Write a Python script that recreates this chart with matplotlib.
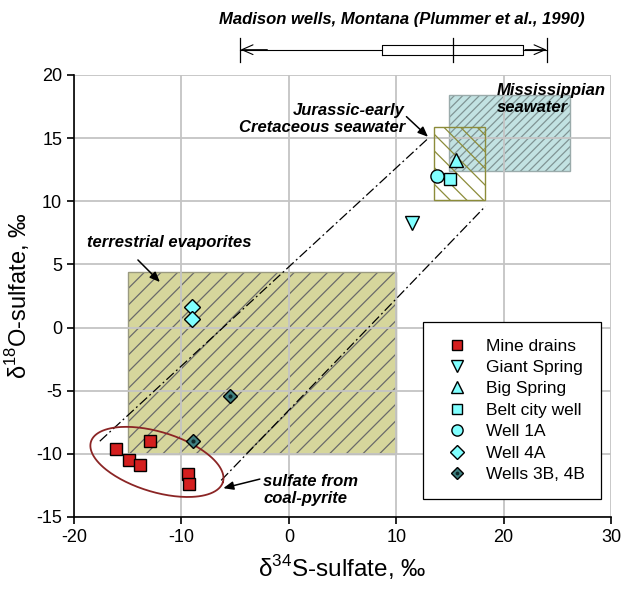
import matplotlib
matplotlib.use('Agg')
import matplotlib.pyplot as plt
import numpy as np
from matplotlib.patches import Rectangle
from matplotlib.lines import Line2D

plt.rcParams['font.family'] = ['Liberation Sans', 'DejaVu Sans']
plt.rcParams['axes.unicode_minus'] = False
plt.rcParams['hatch.linewidth'] = 0.9

# ---------------- data ----------------
mine_x = [-16.1, -14.9, -13.9, -12.9, -9.4, -9.3]
mine_y = [-9.6, -10.5, -10.9, -9.0, -11.6, -12.4]
giant_x = [11.5]
giant_y = [8.3]
big_x = [15.6]
big_y = [13.3]
belt_x = [15.0]
belt_y = [11.8]
well1a_x = [13.8]
well1a_y = [12.0]
well4a_x = [-9.0, -9.0]
well4a_y = [1.6, 0.7]
wells3b_x = [-8.9, -5.5]
wells3b_y = [-9.0, -5.4]

# fields: x0, y0, x1, y1
terr_field = [-15.0, -10.0, 10.0, 4.4]
jur_field = [13.5, 10.1, 18.3, 15.9]
miss_field = [14.9, 12.4, 26.2, 18.4]

# Madison wells range: min, q1, median, q3, max
madison = [-4.5, 8.7, 15.3, 21.8, 24.0]

xticks = [-20, -10, 0, 10, 20, 30]
yticks = [-15, -10, -5, 0, 5, 10, 15, 20]

# ---------------- figure ----------------
fig = plt.figure(figsize=(6.23, 5.93), dpi=100)
ax = fig.add_axes([0.1188, 0.1282, 0.862, 0.7454])
ax.set_xlim(-20, 30)
ax.set_ylim(-15, 20)
ax.set_xticks(xticks)
ax.set_yticks(yticks)
ax.set_axisbelow(True)
ax.grid(True, color='#c4c4c4', lw=1.3, zorder=0.5)
for s in ['top', 'right']:
    ax.spines[s].set_visible(False)
for s in ['left', 'bottom']:
    ax.spines[s].set_linewidth(1.2)
ax.tick_params(direction='out', length=5, width=1.2, labelsize=13)

def field(f, fc, hatch, hc, ec, z):
    x0, y0, x1, y1 = f
    if fc is not None:
        ax.add_patch(Rectangle((x0, y0), x1 - x0, y1 - y0, facecolor=fc,
                               edgecolor='none', lw=0, zorder=z))
    ax.add_patch(Rectangle((x0, y0), x1 - x0, y1 - y0, facecolor='none',
                           hatch=hatch, edgecolor=hc, lw=0, zorder=z + 0.01))
    ax.add_patch(Rectangle((x0, y0), x1 - x0, y1 - y0, facecolor='none',
                           edgecolor=ec, lw=1.0, zorder=z + 0.02))

field(terr_field, '#d6d69c', '//', '#6a6a6a', '#9a9a80', 0.2)
field(miss_field, '#c2e2e2', '////', '#809494', '#9aabab', 0.25)
field(jur_field, None, '\\\\', '#8c8c3a', '#8c8c3a', 1.2)

# dash-dot envelope lines
ax.plot([-17.6, 13.0], [-9.0, 15.0], color='black', lw=0.9,
        ls=(0, (8, 2.5, 1.5, 2.5)), zorder=1.5)
ax.plot([-6.3, 18.3], [-12.1, 9.6], color='black', lw=0.9,
        ls=(0, (8, 2.5, 1.5, 2.5)), zorder=1.5)

# ellipse (in pixel space, converted to data)
sx = ax.bbox.width / 50.0
sy = ax.bbox.height / 35.0
cx, cy = -12.28, -10.64
a, b, th = 69.0, 30.0, np.deg2rad(17)
t = np.linspace(0, 2 * np.pi, 200)
dpx = a * np.cos(t) * np.cos(th) - b * np.sin(t) * np.sin(th)
dpy = a * np.cos(t) * np.sin(th) + b * np.sin(t) * np.cos(th)
ax.plot(cx + dpx / sx, cy - dpy / sy, color='#8b2525', lw=1.3, zorder=2)

# markers
cyan = '#80ffff'
mk = dict(markeredgecolor='black', markeredgewidth=1.0, ls='none', zorder=5)
h_mine, = ax.plot(mine_x, mine_y, 's', ms=8, markerfacecolor='#d41f1f', **mk)
h_giant, = ax.plot(giant_x, giant_y, 'v', ms=10, markerfacecolor=cyan, **mk)
h_big, = ax.plot(big_x, big_y, '^', ms=10, markerfacecolor=cyan, **mk)
h_belt, = ax.plot(belt_x, belt_y, 's', ms=8.5, markerfacecolor=cyan, **mk)
h_w1a, = ax.plot(well1a_x, well1a_y, 'o', ms=9.5, markerfacecolor=cyan, **mk)
h_w4a, = ax.plot(well4a_x, well4a_y, 'D', ms=8, markerfacecolor=cyan, **mk)
h_w3b, = ax.plot(wells3b_x, wells3b_y, 'D', ms=7, markerfacecolor='#3f8080', **mk)
h_dot, = ax.plot(wells3b_x, wells3b_y, 'o', ms=2, color='#102828', ls='none', zorder=6)

leg = ax.legend([h_mine, h_giant, h_big, h_belt, h_w1a, h_w4a, (h_w3b, h_dot)],
                ['Mine drains', 'Giant Spring', 'Big Spring', 'Belt city well',
                 'Well 1A', 'Well 4A', 'Wells 3B, 4B'],
                loc='upper left', bbox_to_anchor=(0.65, 0.441), fontsize=12.5,
                frameon=True, fancybox=False, framealpha=1, edgecolor='black',
                labelspacing=0.36, handletextpad=0.66, borderpad=0.95,
                borderaxespad=0, handlelength=2.0, markerscale=0.85)
leg.get_frame().set_linewidth(0.9)
leg.set_zorder(10)

# labels
ax.set_xlabel('δ$^{\\mathregular{34}}$S-sulfate, ‰', fontsize=17.5, labelpad=5)
ax.set_ylabel('δ$^{\\mathregular{18}}$O-sulfate, ‰', fontsize=17, labelpad=3)

ann = dict(fontsize=12, fontweight='bold', fontstyle='italic', zorder=8)
ax.text(19.4, 18.1, 'Mississippian\nseawater', ha='left', va='center',
        linespacing=1.15, **ann)
ax.text(10.8, 16.5, 'Jurassic-early\nCretaceous seawater', ha='right',
        va='center', linespacing=1.15, **ann)
ax.text(-18.8, 6.7, 'terrestrial evaporites', ha='left', va='center', **ann)
ax.text(-2.4, -12.85, 'sulfate from\ncoal-pyrite', ha='left', va='center',
        linespacing=1.15, **ann)

arr = dict(arrowstyle='-|>,head_length=0.6,head_width=0.25', color='black',
           lw=1.1, shrinkA=0, shrinkB=0)
ax.annotate('', xy=(12.96, 15.1), xytext=(10.95, 16.7), arrowprops=arr, zorder=8)
ax.annotate('', xy=(-12.0, 3.6), xytext=(-14.05, 5.35), arrowprops=arr, zorder=8)
ax.annotate('', xy=(-6.1, -12.72), xytext=(-2.7, -12.0), arrowprops=arr, zorder=8)

# Madison wells range bar above the axes
mn, q1, med, q3, mx = madison
yb = 22.0
ax.plot([q1, q3, q3, q1, q1], [yb - 0.4, yb - 0.4, yb + 0.4, yb + 0.4, yb - 0.4],
        color='black', lw=0.8, clip_on=False)
ax.plot([med, med], [yb - 0.95, yb + 0.95], color='black', lw=0.9, clip_on=False)
ax.plot([mn, mn], [yb - 0.95, yb + 0.95], color='black', lw=0.9, clip_on=False)
ax.plot([mx, mx], [yb - 0.95, yb + 0.95], color='black', lw=0.9, clip_on=False)
ax.plot([q3, mx], [yb, yb], color='black', lw=0.8, clip_on=False)
ax.plot([mn, q1], [yb, yb], color='black', lw=0.8, clip_on=False)
oarr = dict(arrowstyle='->,head_length=0.8,head_width=0.35', color='black',
            lw=0.8, shrinkA=0, shrinkB=0)
ax.annotate('', xy=(mn, yb), xytext=(mn + 2.5, yb), arrowprops=oarr,
            annotation_clip=False)
ax.annotate('', xy=(mx, yb), xytext=(mx - 2.0, yb), arrowprops=oarr,
            annotation_clip=False)
ax.text((mn + mx) / 2 + 0.8, 24.4, 'Madison wells, Montana (Plummer et al., 1990)',
        ha='center', va='center', fontsize=12, fontweight='bold',
        fontstyle='italic', clip_on=False)

fig.savefig('out.png', dpi=100)
